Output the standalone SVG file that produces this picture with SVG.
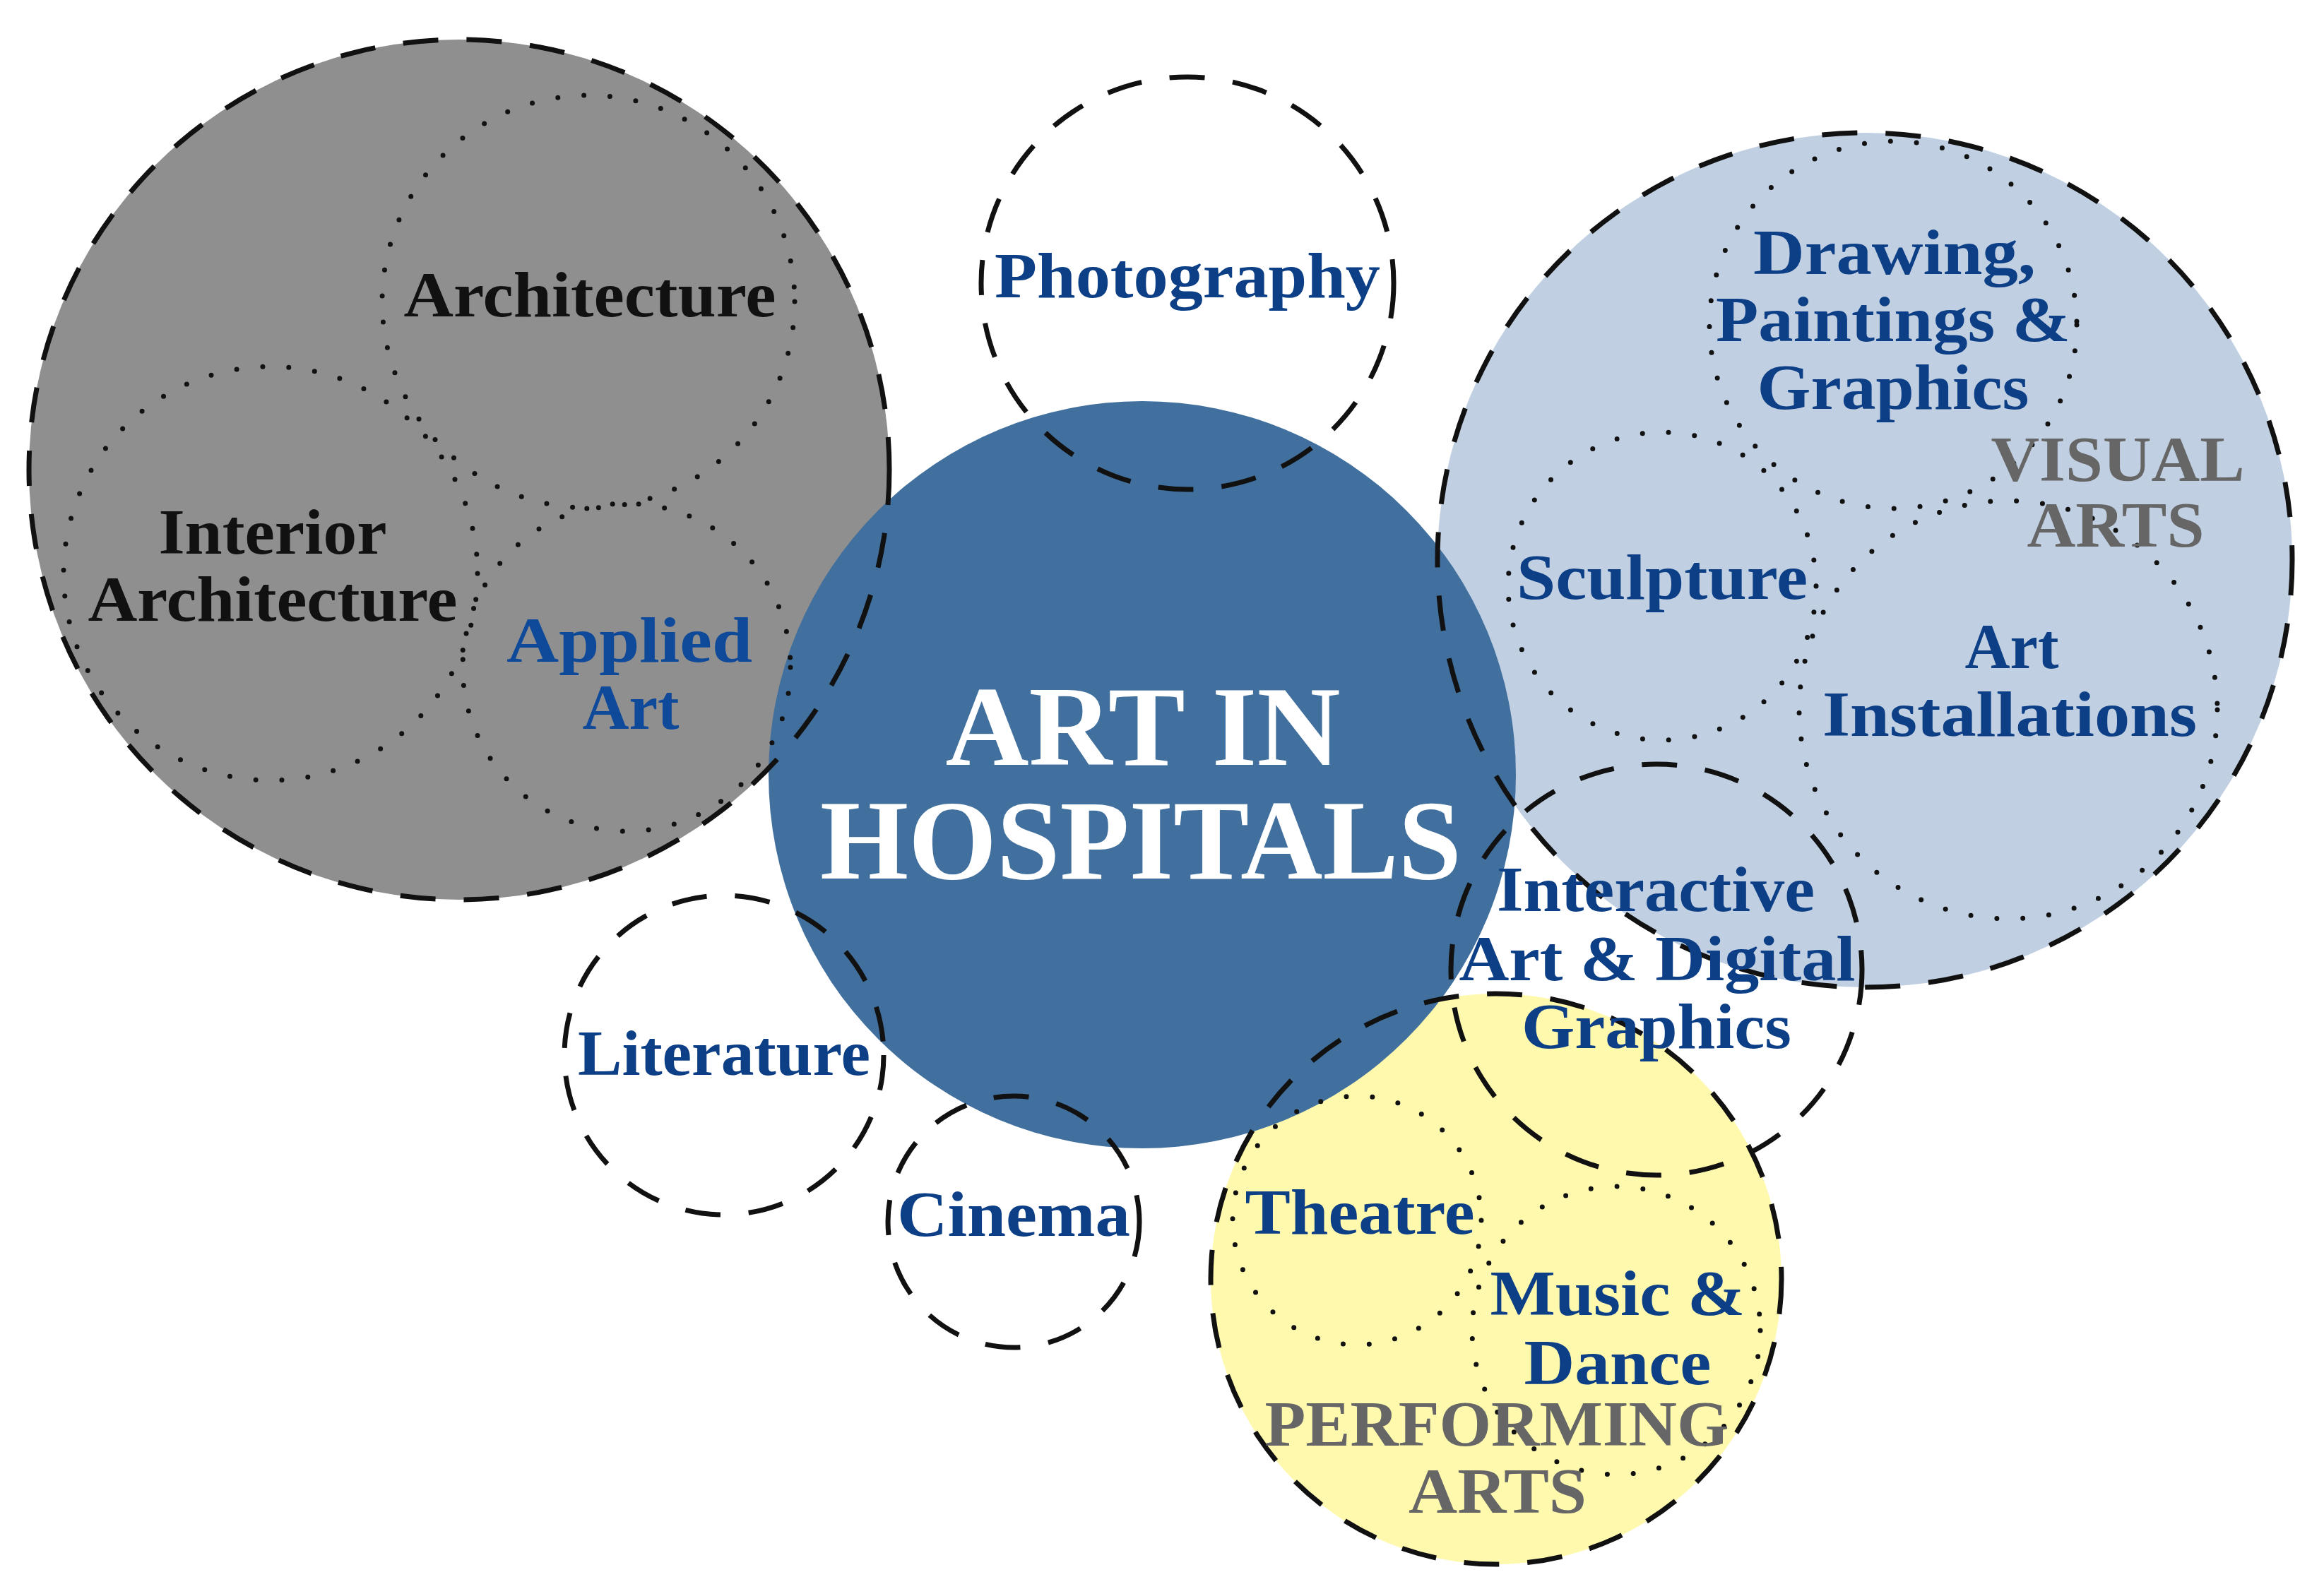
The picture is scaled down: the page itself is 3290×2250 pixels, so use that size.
<svg xmlns="http://www.w3.org/2000/svg" width="3290" height="2250" viewBox="0 0 3290 2250">
<style>
.dash{fill:none;stroke:#111;stroke-width:7;stroke-dasharray:50 40}
.dot{fill:none;stroke:#111;stroke-width:7;stroke-dasharray:0 37;stroke-linecap:round}
.lbl{font-family:"Liberation Serif",serif;font-weight:bold;font-size:90px;text-anchor:middle}
.blue{fill:#0d3f86}
.blue2{fill:#0f4a9a}
.black{fill:#111}
.grey{fill:#666}
.title{font-family:"Liberation Serif",serif;font-weight:bold;font-size:160px;fill:#fff;text-anchor:middle}
</style>
<rect width="3290" height="2250" fill="#fff"/>
<g id="fills">
<circle cx="650" cy="665" r="609" fill="#8f8f8f"/>
<circle cx="2640" cy="793" r="605" fill="#c0cfe1"/>
<circle cx="2118" cy="1811" r="404" fill="#fff9ae"/>
<circle cx="1617" cy="1097" r="529" fill="#41709f"/>
</g>
<g id="connectors"></g>
<g id="center">
<text class="title" x="1618" y="1083" textLength="559" lengthAdjust="spacingAndGlyphs">ART IN</text>
<text class="title" x="1615" y="1244" textLength="908" lengthAdjust="spacingAndGlyphs">HOSPITALS</text>
</g>
<g id="gray-group">
<circle class="dash" cx="650" cy="665" r="609"/>
<circle class="dot" cx="833" cy="427" r="292"/>
<circle class="dot" cx="383" cy="812" r="293"/>
<circle class="dot" cx="887" cy="945" r="232"/>
<text class="lbl black" x="835" y="448" textLength="527" lengthAdjust="spacingAndGlyphs">Architecture</text>
<text class="lbl black" x="386" y="784" textLength="323" lengthAdjust="spacingAndGlyphs">Interior</text>
<text class="lbl black" x="386" y="879" textLength="523" lengthAdjust="spacingAndGlyphs">Architecture</text>
<text class="lbl blue2" x="891" y="937" textLength="348" lengthAdjust="spacingAndGlyphs">Applied</text>
<text class="lbl blue2" x="893" y="1032" textLength="137" lengthAdjust="spacingAndGlyphs">Art</text>
</g>
<g id="photography">
<circle class="dash" cx="1681" cy="401" r="292"/>
<text class="lbl blue" x="1681" y="421" textLength="546" lengthAdjust="spacingAndGlyphs">Photography</text>
</g>
<g id="visual-arts">
<circle class="dash" cx="2640" cy="793" r="605"/>
<circle class="dot" cx="2680" cy="460" r="260"/>
<circle class="dot" cx="2353" cy="830" r="218"/>
<circle class="dot" cx="2843" cy="1005" r="296"/>
<text class="lbl blue" x="2682" y="388" textLength="400" lengthAdjust="spacingAndGlyphs">Drawing,</text>
<text class="lbl blue" x="2680" y="483" textLength="502" lengthAdjust="spacingAndGlyphs">Paintings &amp;</text>
<text class="lbl blue" x="2680" y="579" textLength="385" lengthAdjust="spacingAndGlyphs">Graphics</text>
<text class="lbl grey" x="2998" y="681" textLength="359" lengthAdjust="spacingAndGlyphs">VISUAL</text>
<text class="lbl grey" x="2995" y="774" textLength="251" lengthAdjust="spacingAndGlyphs">ARTS</text>
<text class="lbl blue" x="2353" y="848" textLength="412" lengthAdjust="spacingAndGlyphs">Sculpture</text>
<text class="lbl blue" x="2848" y="946" textLength="133" lengthAdjust="spacingAndGlyphs">Art</text>
<text class="lbl blue" x="2845" y="1042" textLength="530" lengthAdjust="spacingAndGlyphs">Installations</text>
</g>
<g id="interactive">
<circle class="dash" cx="2345" cy="1373" r="291"/>
</g>
<g id="literature">
<circle class="dash" cx="1025" cy="1494" r="226"/>
<text class="lbl blue" x="1025" y="1522" textLength="414" lengthAdjust="spacingAndGlyphs">Literature</text>
</g>
<g id="cinema">
<circle class="dash" cx="1435" cy="1730" r="178"/>
<text class="lbl blue" x="1435" y="1750" textLength="330" lengthAdjust="spacingAndGlyphs">Cinema</text>
</g>
<g id="performing-arts">
<circle class="dash" cx="2118" cy="1811" r="404"/>
<circle class="dot" cx="1921" cy="1728" r="176"/>
<circle class="dot" cx="2288" cy="1884" r="204"/>
<text class="lbl blue" x="1925" y="1747" textLength="325" lengthAdjust="spacingAndGlyphs">Theatre</text>
<text class="lbl blue" x="2290" y="1862" textLength="361" lengthAdjust="spacingAndGlyphs">Music &amp;</text>
<text class="lbl blue" x="2290" y="1960" textLength="265" lengthAdjust="spacingAndGlyphs">Dance</text>
<text class="lbl grey" x="2119" y="2047" textLength="657" lengthAdjust="spacingAndGlyphs">PERFORMING</text>
<text class="lbl grey" x="2120" y="2142" textLength="252" lengthAdjust="spacingAndGlyphs">ARTS</text>
</g>
<g id="interactive-labels">
<text class="lbl blue" x="2344" y="1290" textLength="450" lengthAdjust="spacingAndGlyphs">Interactive</text>
<text class="lbl blue" x="2346" y="1388" textLength="561" lengthAdjust="spacingAndGlyphs">Art &amp; Digital</text>
<text class="lbl blue" x="2345" y="1484" textLength="382" lengthAdjust="spacingAndGlyphs">Graphics</text>
</g>
</svg>
